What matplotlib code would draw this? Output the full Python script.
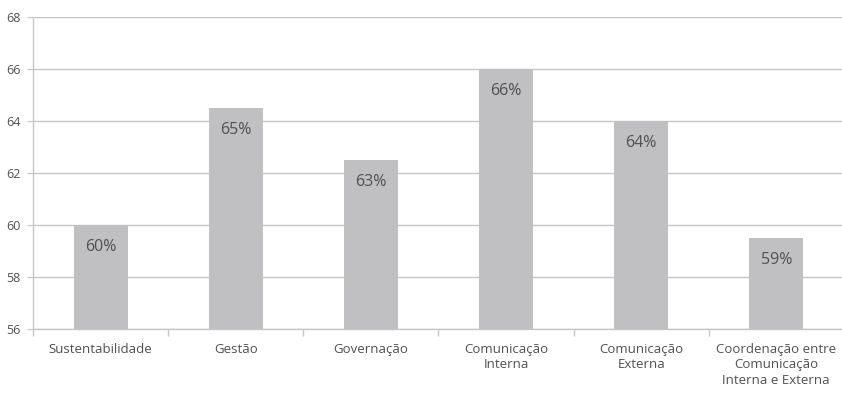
import matplotlib.pyplot as plt
import numpy as np
from matplotlib.ticker import FixedLocator

categories = [
    "Sustentabilidade",
    "Gestão",
    "Governação",
    "Comunicação\nInterna",
    "Comunicação\nExterna",
    "Coordenação entre\nComunicação\nInterna e Externa",
]
values = [60.0, 64.5, 62.5, 66.0, 64.0, 59.5]
value_labels = ["60%", "65%", "63%", "66%", "64%", "59%"]
y_ticks = [56, 58, 60, 62, 64, 66, 68]

plt.rcParams["font.family"] = ["Open Sans", "DejaVu Sans"]

text_color = "#505050"
grid_color = "#c6c6c6"
bar_color = "#c0c0c2"

fig = plt.figure(figsize=(8.42, 3.97), dpi=100)
ax = fig.add_axes([0.0392, 0.1713, 0.9630, 0.7857])

x = np.arange(len(categories))
ax.bar(x, [v - y_ticks[0] for v in values], bottom=y_ticks[0],
       width=0.4, color=bar_color, zorder=2)

for xi, v, lab in zip(x, values, value_labels):
    ax.annotate(lab, (xi, v), xytext=(0, -10), textcoords="offset points",
                ha="center", va="top", fontsize=11.5, color=text_color, zorder=3)

ax.set_xlim(-0.5, len(categories) - 0.5)
ax.set_ylim(y_ticks[0], y_ticks[-1])
ax.set_yticks(y_ticks)
ax.yaxis.grid(True, color=grid_color, linewidth=1.0, zorder=1)

ax.set_xticks(x)
ax.set_xticklabels(categories, fontsize=9.5, color=text_color, linespacing=1.25)
ax.tick_params(axis="x", which="major", length=0, pad=10)
ax.xaxis.set_minor_locator(FixedLocator(np.arange(-0.5, len(categories), 1.0)))
ax.tick_params(axis="x", which="minor", length=5, color=grid_color, width=1.0)
ax.tick_params(axis="y", length=4, color=grid_color, labelsize=9,
               labelcolor=text_color, pad=5)

for side in ("top", "right"):
    ax.spines[side].set_visible(False)
for side in ("left", "bottom"):
    ax.spines[side].set_color(grid_color)
    ax.spines[side].set_linewidth(1.0)

fig.savefig("out.png", dpi=100, facecolor="white")
